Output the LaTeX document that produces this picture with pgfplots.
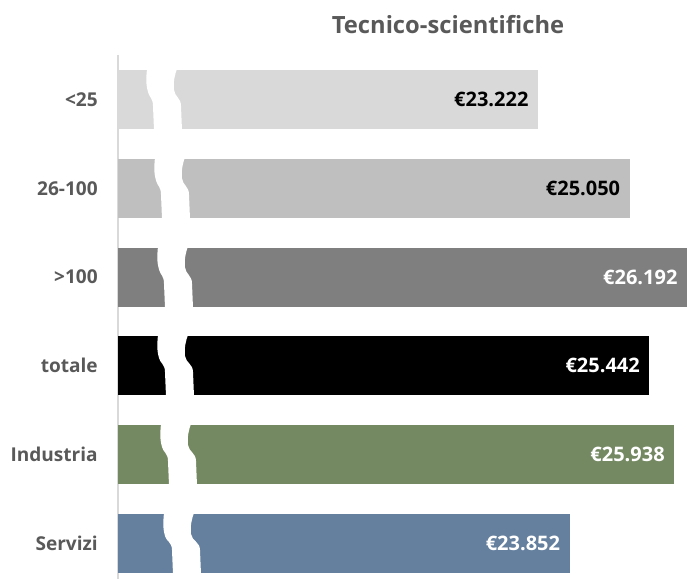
\documentclass[border=0pt]{standalone}
\usepackage{pgfplots}
\pgfplotsset{compat=1.18}
\usepackage{fontspec}
\setmainfont{Open Sans}

\definecolor{cA}{HTML}{D9D9D9}
\definecolor{cB}{HTML}{BFBFBF}
\definecolor{cC}{HTML}{7F7F7F}
\definecolor{cD}{HTML}{000000}
\definecolor{cE}{HTML}{748962}
\definecolor{cF}{HTML}{64809E}
\definecolor{txtgrey}{HTML}{595959}
\definecolor{linegrey}{HTML}{D9D9D9}

% one white piece of the axis break, in pixels of the picture
% #1 top of bar, #2 left edge at top, #3 left edge at bottom
\newcommand{\brk}[3]{%
  \fill[white] (#2,#1-1) .. controls (#2-1,#1+8) and (#2-1,#1+16) .. (#2+1,#1+22)
    .. controls (#2+2,#1+27) and (#3,#1+28) .. (#3,#1+36)
    -- (#3+1,#1+60) -- (#3+29,#1+60) -- (#3+28,#1+36)
    .. controls (#3+28,#1+28) and (#2+28,#1+27) .. (#2+27,#1+20)
    .. controls (#2+26,#1+12) and (#2+28,#1+4) .. (#2+30,#1-1) -- cycle;}

\begin{document}
\begin{tikzpicture}
\begin{axis}[
    xbar, bar shift=0pt, bar width=0.664,
    scale only axis, width=426.75pt, height=393pt,
    xmin=14850, xmax=26192,
    ymin=-0.5, ymax=5.4, y dir=reverse,
    axis x line=none, axis y line=left,
    axis line style={draw=linegrey, line width=0.8pt, -},
    ytick={0,1,2,3,4,5},
    yticklabels={<25,26-100,>100,totale,Industria,Servizi},
    major tick length=0pt,
    yticklabel style={font=\fontsize{14.3}{16}\selectfont\bfseries, text=txtgrey, inner sep=0pt, xshift=-15pt},
    point meta=explicit symbolic,
    nodes near coords,
    nodes near coords style={anchor=east, xshift=-7pt, inner sep=0pt, font=\fontsize{15}{17}\selectfont\bfseries},
]
\addplot[fill=cA, draw=none, nodes near coords style={text=black}] coordinates {(23222,0) [€23.222]};
\addplot[fill=cB, draw=none, nodes near coords style={text=black}] coordinates {(25050,1) [€25.050]};
\addplot[fill=cC, draw=none, nodes near coords style={text=white}] coordinates {(26192,2) [€26.192]};
\addplot[fill=cD, draw=none, nodes near coords style={text=white}] coordinates {(25442,3) [€25.442]};
\addplot[fill=cE, draw=none, nodes near coords style={text=white}] coordinates {(25938,4) [€25.938]};
\addplot[fill=cF, draw=none, nodes near coords style={text=white}] coordinates {(23852,5) [€23.852]};
\end{axis}
\begin{scope}[shift={(current axis.north west)}]
\begin{scope}[x=0.75pt, y=-0.75pt, shift={(-118,-55)}]
  \brk{70}{147}{153}
  \brk{158.5}{155}{161}
  \brk{247.5}{158}{164}
  \brk{336}{158}{165}
  \brk{425}{161}{168}
  \brk{514}{164}{172}
  \node[font=\fontsize{17.8}{20}\selectfont\bfseries, text=txtgrey] at (448,25) {Tecnico-scientifiche};
\end{scope}
\end{scope}
\pgfresetboundingbox
\path ([xshift=-88.5pt]current axis.south west) rectangle ([yshift=41.25pt]current axis.north east);
\end{tikzpicture}
\end{document}
